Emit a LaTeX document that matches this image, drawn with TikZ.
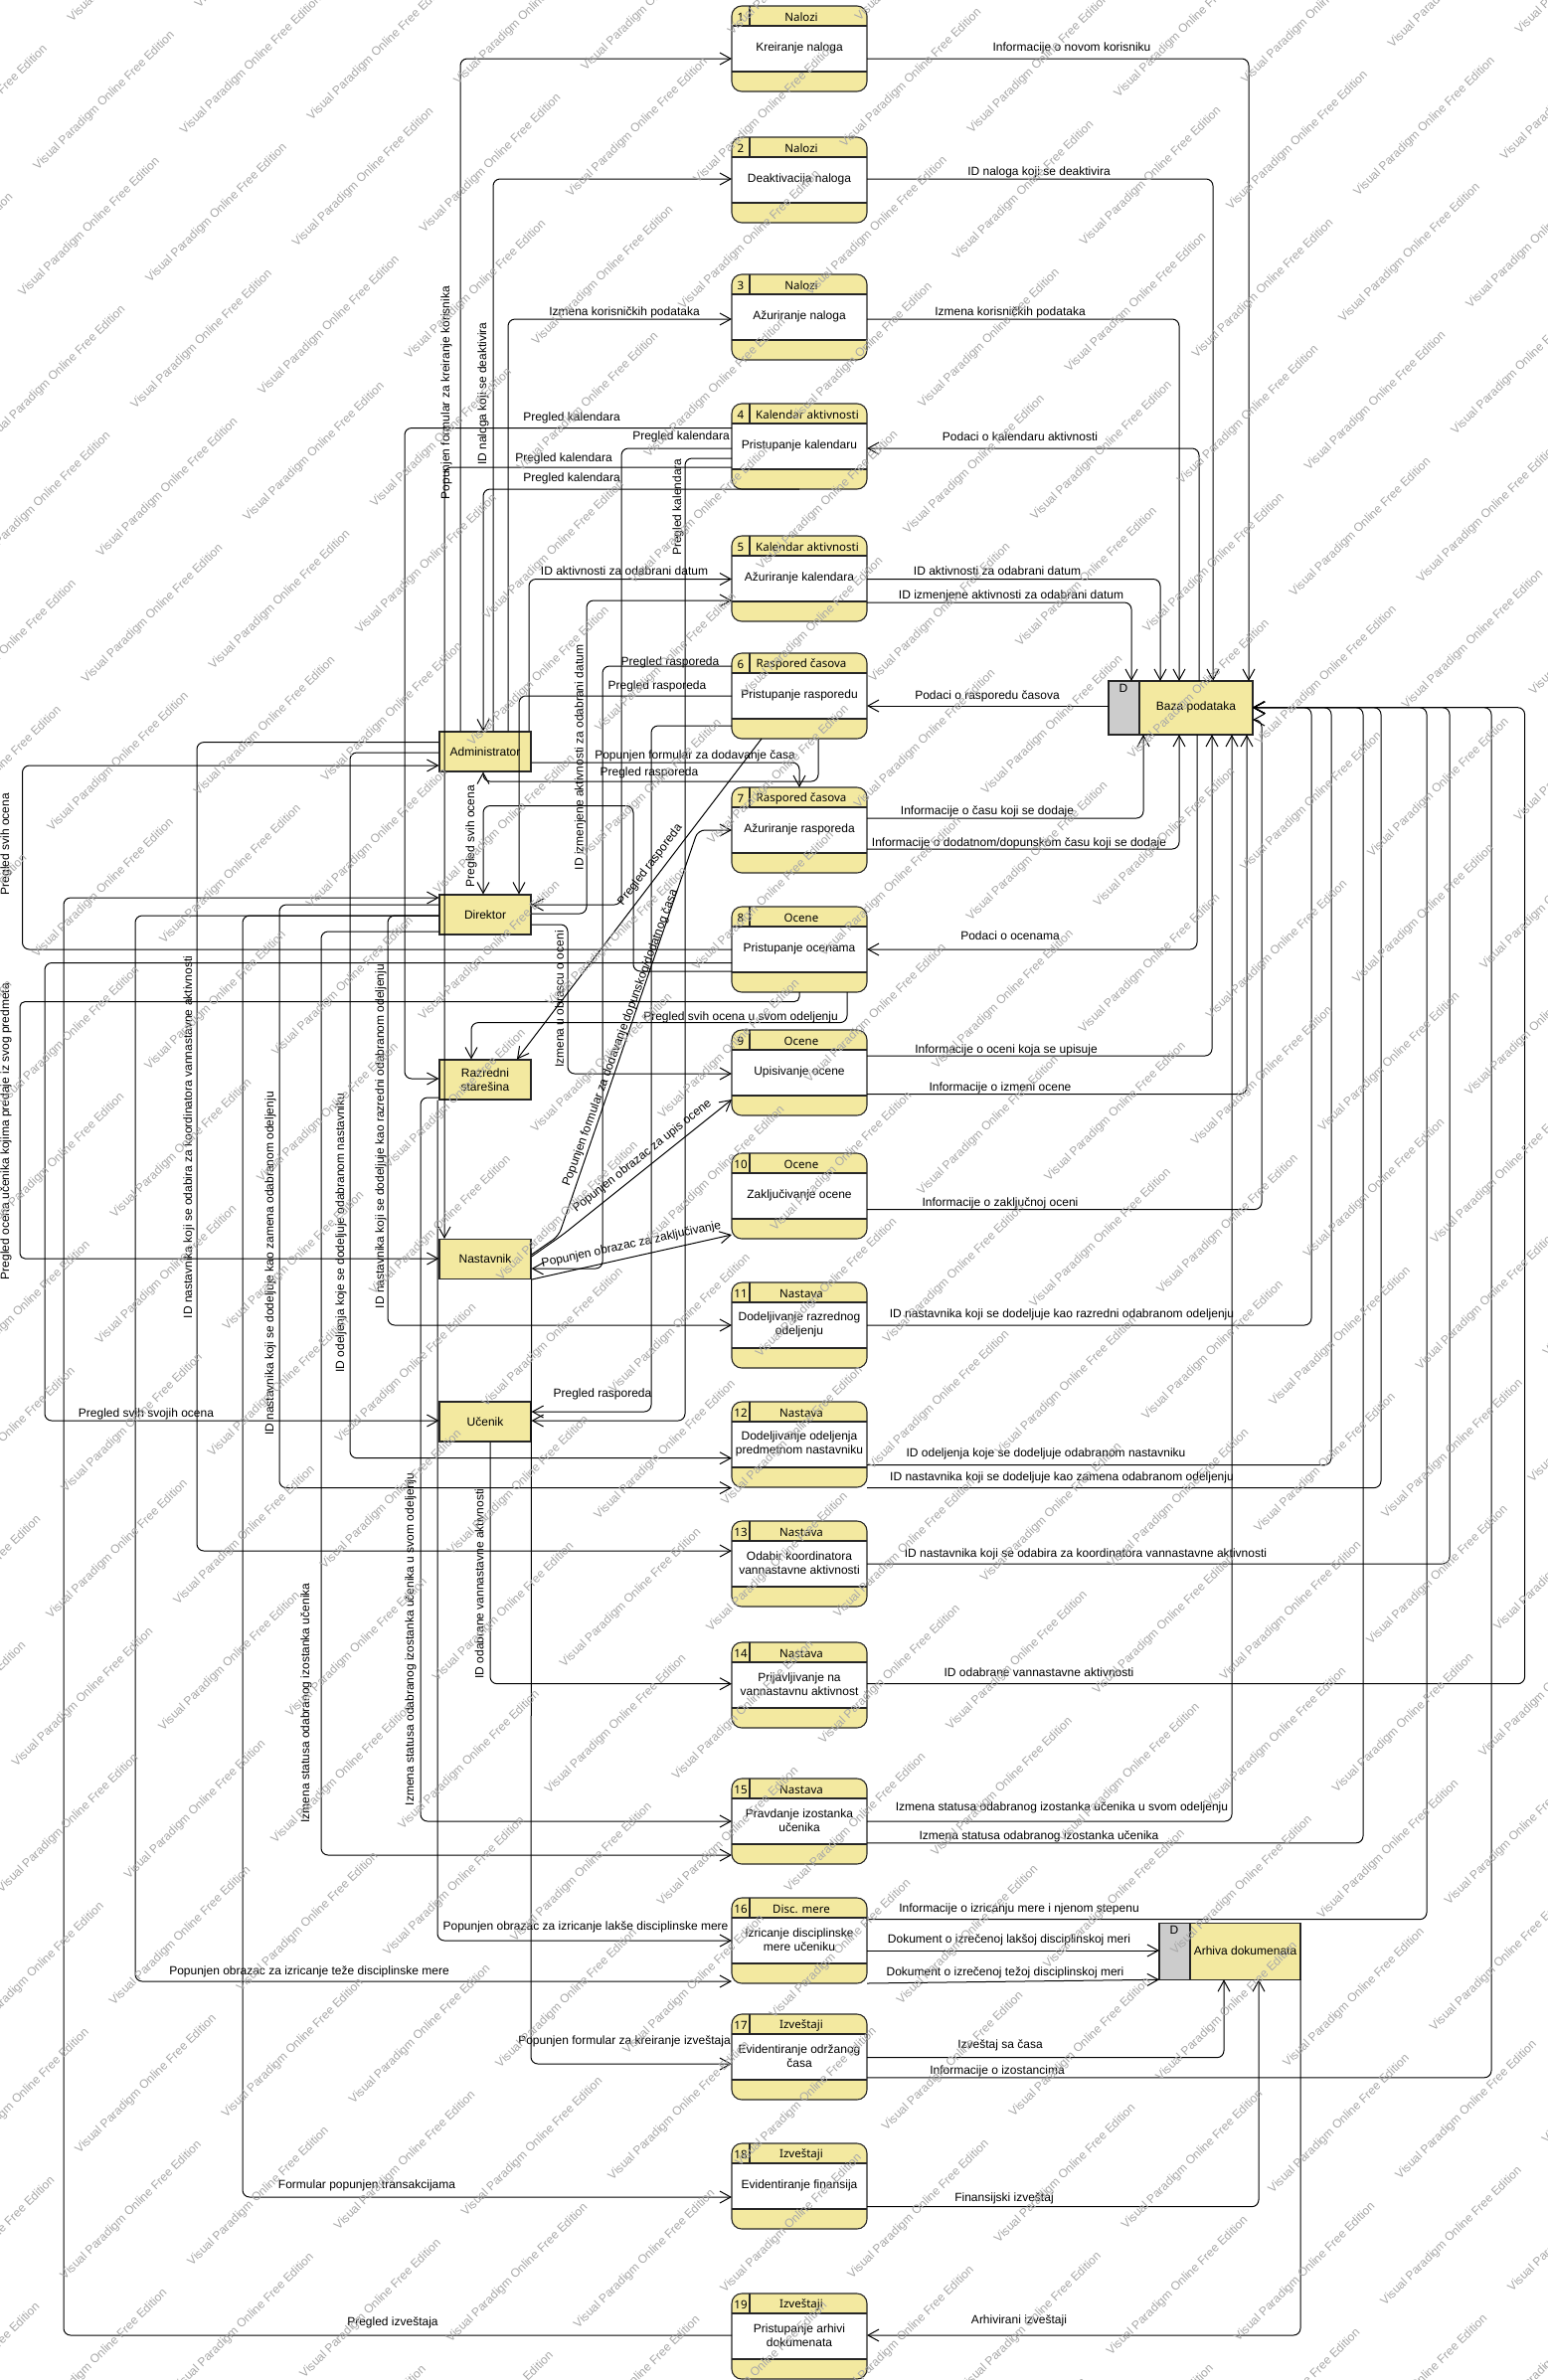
\documentclass[tikz,border=0pt]{standalone}
\usepackage{fontspec}
\setmainfont{Liberation Sans}
\newfontfamily\hdrfont{Noto Sans}
\usetikzlibrary{arrows.meta}
\definecolor{procyellow}{RGB}{243,233,160}
\definecolor{storegray}{RGB}{204,204,204}
\definecolor{wmgray}{RGB}{168,168,168}
\tikzset{
  flow/.style={draw=black, line width=1pt, rounded corners=7pt, -{Straight Barb[length=11pt,width=12pt]}},
  lbl/.style={font=\fontsize{12}{14}\selectfont, inner sep=0pt, text=black},
  vlbl/.style={lbl, rotate=90},
  entity/.style={draw=black!85, line width=1.1pt, fill=procyellow, minimum width=92pt, minimum height=40pt, inner sep=0pt, font=\fontsize{12}{14}\selectfont, align=center},
  store/.style={draw=black!85, line width=1.1pt, fill=procyellow, inner sep=0pt, outer sep=0pt},
  procnode/.style={fill=procyellow, minimum width=136pt, minimum height=86pt, inner sep=0pt, outer sep=0pt, rounded corners=10pt},
  procline/.style={draw=black!85, line width=1.1pt},
  ptext/.style={font=\fontsize{12}{13.8}\selectfont, align=center, inner sep=0pt},
  htext/.style={font=\hdrfont\fontsize{11.5}{13}\selectfont, inner sep=0pt},
  wm/.style={font=\fontsize{12}{14}\selectfont, text=wmgray, rotate=44.5, anchor=base west, inner sep=0pt},
}
% #1 header x, #2 name, #3 number, #4 top y, #5 header, #6 body
\newcommand\procbox[6][806]{%
  \node[procnode] (#2) at (804,#4+43) {};
  \fill[white] (736,#4+20) rectangle (872,#4+66);
  \draw[procline] (736,#4+20) -- (872,#4+20) (736,#4+66) -- (872,#4+66) (754,#4) -- (754,#4+20);
  \draw[procline, rounded corners=10pt] (736,#4) rectangle (872,#4+86);
  \node[htext] (#2n) at (745,#4+11) {#3};
  \node[htext] (#2h) at (#1,#4+11) {#5};
  \node[ptext] (#2b) at (804,#4+42) {#6};
}
\begin{document}
\begin{tikzpicture}[x=1pt,y=-1pt]
\useasboundingbox (0,0) rectangle (1556,2394);
\fill[white] (0,0) rectangle (1556,2394);

% ---------------- processes ----------------
\procbox{p1}{1}{6}{Nalozi}{Kreiranje naloga}
\procbox{p2}{2}{138}{Nalozi}{Deaktivacija naloga}
\procbox{p3}{3}{276}{Nalozi}{Ažuriranje naloga}
\procbox[812]{p4}{4}{406}{Kalendar aktivnosti}{Pristupanje kalendaru}
\procbox[812]{p5}{5}{539}{Kalendar aktivnosti}{Ažuriranje kalendara}
\procbox{p6}{6}{657}{Raspored časova}{Pristupanje rasporedu}
\procbox{p7}{7}{792}{Raspored časova}{Ažuriranje rasporeda}
\procbox{p8}{8}{912}{Ocene}{Pristupanje ocenama}
\procbox{p9}{9}{1036}{Ocene}{Upisivanje ocene}
\procbox{p10}{10}{1160}{Ocene}{Zaključivanje ocene}
\procbox{p11}{11}{1290}{Nastava}{Dodeljivanje razrednog\\odeljenju}
\procbox{p12}{12}{1410}{Nastava}{Dodeljivanje odeljenja\\predmetnom nastavniku}
\procbox{p13}{13}{1530}{Nastava}{Odabir koordinatora\\vannastavne aktivnosti}
\procbox{p14}{14}{1652}{Nastava}{Prijavljivanje na\\vannastavnu aktivnost}
\procbox{p15}{15}{1789}{Nastava}{Pravdanje izostanka\\učenika}
\procbox{p16}{16}{1909}{Disc. mere}{Izricanje disciplinske\\mere učeniku}
\procbox{p17}{17}{2026}{Izveštaji}{Evidentiranje održanog\\časa}
\procbox{p18}{18}{2156}{Izveštaji}{Evidentiranje finansija}
\procbox{p19}{19}{2307}{Izveštaji}{Pristupanje arhivi\\dokumenata}

% ---------------- entities ----------------
\node[entity] (a1) at (488,756) {Administrator};
\node[entity] (a2) at (488,920) {Direktor};
\node[entity] (a3) at (488,1086) {Razredni\\starešina};
\node[entity] (a4) at (488,1266.5) {Nastavnik};
\node[entity] (a5) at (488,1430) {Učenik};

% ---------------- data stores ----------------
\node[store, minimum width=145pt, minimum height=54pt] (db) at (1187.5,712) {};
\fill[storegray] (1115.5,685.5) rectangle (1146,738.5);
\draw[procline] (1146,685) -- (1146,739);
\draw[procline] (db.north west) rectangle (db.south east);
\node[lbl] (dbd) at (1130,692) {D};
\node[lbl] (dbt) at (1203,711) {Baza podataka};

\node[store, minimum width=142pt, minimum height=56.5pt] (ar) at (1237,1963) {};
\fill[storegray] (1166.5,1935.2) rectangle (1197,1990.8);
\draw[procline] (1197,1934.75) -- (1197,1991.25);
\draw[procline] (ar.north west) rectangle (ar.south east);
\node[lbl] (ard) at (1181,1941) {D};
\node[lbl] (art) at (1252.5,1962) {Arhiva dokumenata};

% ---------------- flows ----------------
\draw[flow] (a1.north -| 463,0) -- (463,59) -- (p1.west |- 0,59);
\draw[flow] (a1.north -| 496,0) -- (496,180) -- (p2.west |- 0,180);
\draw[flow] (a1.north -| 511,0) -- (511,321) -- (p3.west |- 0,321);
\draw[flow] (a1.north -| 532,0) -- (532,582.5) -- (p5.west |- 0,582.5);
\draw[flow] (p1.east |- 0,59) -- (1256,59) -- (db.north -| 1256,0);
\draw[flow] (p2.east |- 0,180) -- (1220,180) -- (db.north -| 1220,0);
\draw[flow] (p3.east |- 0,321) -- (1186,321) -- (db.north -| 1186,0);
\draw[flow] (db.north -| 1206,0) -- (1206,451) -- (p4.east |- 0,451);
\draw[flow] (p5.east |- 0,582.5) -- (1167,582.5) -- (db.north -| 1167,0);
\draw[flow] (p5.east |- 0,606) -- (1138,606) -- (db.north -| 1138,0);
\draw[flow] (p4.west |- 0,430.5) -- (407,430.5) -- (407,1085) -- (a3.west |- 0,1085);
\draw[flow] (p4.west |- 0,451) -- (625,451) -- (625,910) -- (a2.east |- 0,910);
\draw[flow] (p4.west |- 0,461) -- (689,461) -- (689,1429) -- (a5.east |- 0,1429);
\draw[flow] (p4.west |- 0,470) -- (447,470) -- (a4.north -| 447,0);
\draw[flow] (p4.south) -- (486,492) -- (a1.north -| 486,0);
\draw[flow] (a2.east |- 0,919) -- (590,919) -- (590,604) -- (p5.west |- 0,604);
\draw[flow] (db.west |- 0,710) -- (p6.east |- 0,710);
\draw[flow] (p6.west |- 0,670) -- (606,670) -- (606,1276) -- (a4.east |- 0,1276);
\draw[flow] (p6.west |- 0,700) -- (522,700) -- (a2.north -| 522,0);
\draw[flow] (p6.west |- 0,730) -- (655,730) -- (655,1420) -- (a5.east |- 0,1420);
\draw[flow] (a1.east |- 0,767) -- (804,767) -- (p7.north);
\draw[flow] (p6.south -| 823,0) -- (823,786) -- (486,786) [sharp corners] -- (a1.south -| 486,0);
\draw[flow] (p6.south -| 766,0) -- (a3.north -| 520,0);
\draw[flow] (a4.east |- 0,1262) -- (562,1243) -- (702,835) -- (p7.west |- 0,835);
\draw[flow] (p7.east |- 0,823) -- (1150,823) -- (db.south -| 1150,0);
\draw[flow] (p7.east |- 0,854) -- (1186,854) -- (db.south -| 1186,0);
\draw[flow] (db.south -| 1204,0) -- (1204,955) -- (p8.east |- 0,955);
\draw[flow] (p8.west |- 0,955) -- (22.5,955) -- (22.5,770) -- (a1.west |- 0,770);
\draw[flow] (p8.west |- 0,968.5) -- (45,968.5) -- (45,1429) -- (a5.west |- 0,1429);
\draw[flow] (p8.west |- 0,977) -- (637,977) -- (637,810.5) -- (486,810.5) -- (a2.north -| 486,0);
\draw[flow, rounded corners=5pt] (p8.south) -- (804,1007.6) -- (20,1007.6) -- (20,1266) -- (a4.west |- 0,1266);
\draw[flow] (p8.south -| 852,0) -- (852,1028.6) -- (474,1028.6) -- (a3.north -| 474,0);
\draw[flow] (a2.east |- 0,930) -- (571,930) -- (571,1080) -- (p9.west |- 0,1080);
\draw[flow] (a4.east |- 0,1264) -- (566,1242) -- (p9.west |- 0,1106);
\draw[flow] (p9.east |- 0,1062) -- (1219,1062) -- (db.south -| 1219,0);
\draw[flow] (p9.east |- 0,1100.6) -- (1254,1100.6) -- (db.south -| 1254,0);
\draw[flow] (a4.south east) -- (p10.west |- 0,1242);
\draw[flow] (p10.east |- 0,1216.5) -- (1269,1216.5) -- (1269,724) [sharp corners] -- (db.east |- 0,724);
\draw[flow] (p11.east |- 0,1333) -- (1319,1333) -- (1319,711.7) -- (db.east |- 0,711.7);
\draw[flow] (p12.east |- 0,1473.6) -- (1339,1473.6) -- (1339,711.7) -- (db.east |- 0,711.7);
\draw[flow] (p12.east |- 0,1496.6) -- (1389,1496.6) -- (1389,711.7) -- (db.east |- 0,711.7);
\draw[flow] (p13.east |- 0,1573) -- (1458,1573) -- (1458,711.7) -- (db.east |- 0,711.7);
\draw[flow] (p14.east |- 0,1693.7) -- (1533.6,1693.7) -- (1533.6,711.7) -- (db.east |- 0,711.7);
\draw[flow] (p15.east |- 0,1832) -- (1239,1832) -- (db.south -| 1239,0);
\draw[flow] (p15.east |- 0,1853.8) -- (1371,1853.8) -- (1371,711.7) -- (db.east |- 0,711.7);
\draw[flow] (p16.east |- 0,1930.7) -- (1435,1930.7) -- (1435,711.7) -- (db.east |- 0,711.7);
\draw[flow] (p16.east |- 0,1962) -- (ar.west |- 0,1962);
\draw[flow] (p16.south east) -- (ar.south west);
\draw[flow] (p17.east |- 0,2069.7) -- (1231,2069.7) -- (ar.south -| 1231,0);
\draw[flow] (p17.east |- 0,2089.8) -- (1500,2089.8) -- (1500,711.7) -- (db.east |- 0,711.7);
\draw[flow] (p18.east |- 0,2219.7) -- (1266,2219.7) -- (ar.south -| 1266,0);
\draw[flow] (ar.south east) -- (1308,2349) -- (p19.east |- 0,2349);
\draw[flow] (p19.west |- 0,2349) -- (64,2349) -- (64,903) -- (a2.west |- 0,903);
\draw[flow] (a2.west |- 0,921) -- (390,921) -- (390,1333) -- (p11.west |- 0,1333);
\draw[flow] (a2.west |- 0,910) -- (281,910) -- (281,1496.6) -- (p12.west |- 0,1496.6);
\draw[flow] (a2.west |- 0,921) -- (136,921) -- (136,1993) -- (p16.west |- 0,1993);
\draw[flow] (a2.west |- 0,921) -- (244,921) -- (244,2210) -- (p18.west |- 0,2210);
\draw[flow] (a2.west |- 0,937) -- (323,937) -- (323,1866) -- (p15.west |- 0,1866);
\draw[flow] (a1.west |- 0,746.6) -- (198,746.6) -- (198,1560) -- (p13.west |- 0,1560);
\draw[flow] (a1.west |- 0,757) -- (352,757) -- (352,1466.7) -- (p12.west |- 0,1466.7);
\draw[flow] (a3.west |- 0,1104) -- (423,1104) -- (423,1832) -- (p15.west |- 0,1832);
\draw[flow] (a3.south -| 440,0) -- (440,1952) -- (p16.west |- 0,1952);
\draw[flow] (a5.south -| 493,0) -- (493,1693.7) -- (p14.west |- 0,1693.7);
\draw[flow] (a4.south east) -- (534,2076) -- (p17.west |- 0,2076);

% ---------------- horizontal labels ----------------
\node[lbl] (l1) at (1078,48.6) {Informacije o novom korisniku};
\node[lbl] (l2) at (1045,173) {ID naloga koji se deaktivira};
\node[lbl] (l3) at (1016,314) {Izmena korisničkih podataka};
\node[lbl] (l4) at (628,314) {Izmena korisničkih podataka};
\node[lbl] (l5) at (1026,439) {Podaci o kalendaru aktivnosti};
\node[lbl] (l6) at (575,420) {Pregled kalendara};
\node[lbl] (l7) at (685,439) {Pregled kalendara};
\node[lbl] (l8) at (567,461) {Pregled kalendara};
\node[lbl] (l9) at (575,481) {Pregled kalendara};
\node[lbl] (l10) at (628,574) {ID aktivnosti za odabrani datum};
\node[lbl] (l11) at (1003,574) {ID aktivnosti za odabrani datum};
\node[lbl] (l12) at (1017,599) {ID izmenjene aktivnosti za odabrani datum};
\node[lbl] (l13) at (674,666) {Pregled rasporeda};
\node[lbl] (l14) at (661,690) {Pregled rasporeda};
\node[lbl] (l15) at (993,700) {Podaci o rasporedu časova};
\node[lbl] (l16) at (699,760) {Popunjen formular za dodavanje časa};
\node[lbl] (l17) at (653,777) {Pregled rasporeda};
\node[lbl] (l18) at (993,816) {Informacije o času koji se dodaje};
\node[lbl] (l19) at (1025,848) {Informacije o dodatnom/dopunskom času koji se dodaje};
\node[lbl] (l20) at (1016,941) {Podaci o ocenama};
\node[lbl] (l21) at (745,1023) {Pregled svih ocena u svom odeljenju};
\node[lbl] (l22) at (1012,1056) {Informacije o oceni koja se upisuje};
\node[lbl] (l23) at (1006,1094) {Informacije o izmeni ocene};
\node[lbl] (l24) at (1006,1210) {Informacije o zaključnoj oceni};
\node[lbl] (l25) at (1068,1322) {ID nastavnika koji se dodeljuje kao razredni odabranom odeljenju};
\node[lbl] (l26) at (606,1402) {Pregled rasporeda};
\node[lbl] (l27) at (147,1422) {Pregled svih svojih ocena};
\node[lbl] (l28) at (1052,1462) {ID odeljenja koje se dodeljuje odabranom nastavniku};
\node[lbl] (l29) at (1068,1486) {ID nastavnika koji se dodeljuje kao zamena odabranom odeljenju};
\node[lbl] (l30) at (1092,1563) {ID nastavnika koji se odabira za koordinatora vannastavne aktivnosti};
\node[lbl] (l31) at (1045,1682) {ID odabrane vannastavne aktivnosti};
\node[lbl] (l32) at (1068,1818) {Izmena statusa odabranog izostanka učenika u svom odeljenju};
\node[lbl] (l33) at (1045,1847) {Izmena statusa odabranog izostanka učenika};
\node[lbl] (l34) at (1025,1920) {Informacije o izricanju mere i njenom stepenu};
\node[lbl] (l35) at (589,1938) {Popunjen obrazac za izricanje lakše disciplinske mere};
\node[lbl] (l36) at (1015,1951.5) {Dokument o izrečenoj lakšoj disciplinskoj meri};
\node[lbl] (l37) at (311,1983) {Popunjen obrazac za izricanje teže disciplinske mere};
\node[lbl] (l38) at (1011,1984) {Dokument o izrečenoj težoj disciplinskoj meri};
\node[lbl] (l39) at (628,2053) {Popunjen formular za kreiranje izveštaja};
\node[lbl] (l40) at (1006,2057) {Izveštaj sa časa};
\node[lbl] (l41) at (1003,2083) {Informacije o izostancima};
\node[lbl] (l42) at (369,2198.5) {Formular popunjen transakcijama};
\node[lbl] (l43) at (1010,2211) {Finansijski izveštaj};
\node[lbl] (l44) at (395,2336) {Pregled izveštaja};
\node[lbl] (l45) at (1025,2334) {Arhivirani izveštaji};

% ---------------- vertical labels ----------------
\node[vlbl] (v1) at (449,395) {Popunjen formular za kreiranje korisnika};
\node[vlbl] (v2) at (486,396) {ID naloga koji se deaktivira};
\node[vlbl] (v3) at (682,510) {Pregled kalendara};
\node[vlbl] (v4) at (583.5,762) {ID izmenjene aktivnosti za odabrani datum};
\node[vlbl] (v5) at (474,841) {Pregled svih ocena};
\node[vlbl] (v6) at (6,849) {Pregled svih ocena};
\node[vlbl] (v7) at (562.5,1005) {Izmena u obrascu o oceni};
\node[vlbl] (v8) at (6,1138) {Pregled ocena učenika kojima predaje iz svog predmeta};
\node[vlbl] (v9) at (190,1144) {ID nastavnika koji se odabira za koordinatora vannastavne aktivnosti};
\node[vlbl] (v10) at (272,1271) {ID nastavnika koji se dodeljuje kao zamena odabranom odeljenju};
\node[vlbl] (v11) at (343,1240) {ID odeljenja koje se dodeljuje odabranom nastavniku};
\node[vlbl] (v12) at (383,1143) {ID nastavnika koji se dodeljuje kao razredni odabranom odeljenju};
\node[vlbl] (v13) at (308,1713) {Izmena statusa odabranog izostanka učenika};
\node[vlbl] (v14) at (413,1649) {Izmena statusa odabranog izostanka učenika u svom odeljenju};
\node[vlbl] (v15) at (482,1593) {ID odabrane vannastavne aktivnosti};

% ---------------- slanted labels ----------------
\node[lbl, rotate=12.2] (d1) at (635,1252) {Popunjen obrazac za zaključivanje};
\node[lbl, rotate=70] (d2) at (624,1044) {Popunjen formular za dodavanje dopunskog/dodatnog časa};
\node[lbl, rotate=38.5] (d3) at (646,1163) {Popunjen obrazac za upis ocene};
\node[lbl, rotate=52.7] (d4) at (654,870) {Pregled rasporeda};

% ---------------- watermark ----------------
\begin{scope}
\clip (0,0) rectangle (1556,2394);
\foreach \i in {-4,...,20}{\foreach \j in {-9,...,7}{
  \pgfmathsetmacro\wx{23+113*\i+275.5*\j}
  \pgfmathsetmacro\wy{298.5+113*\i-50*\j}
  \pgfmathparse{and(and(\wx>-170,\wx<1560),and(\wy>-5,\wy<2570))}
  \ifdim\pgfmathresult pt>0.5pt
    \node[wm] (wma\i x\j) at (\wx,\wy) {Visual Paradigm Online Free Edition};
  \fi
  \pgfmathsetmacro\wx{151+113*\i+275.5*\j}
  \pgfmathsetmacro\wy{284.5+113*\i-50*\j}
  \pgfmathparse{and(and(\wx>-170,\wx<1560),and(\wy>-5,\wy<2570))}
  \ifdim\pgfmathresult pt>0.5pt
    \node[wm] (wmb\i x\j) at (\wx,\wy) {Visual Paradigm Online Free Edition};
  \fi
}}
\end{scope}
\end{tikzpicture}
\end{document}
